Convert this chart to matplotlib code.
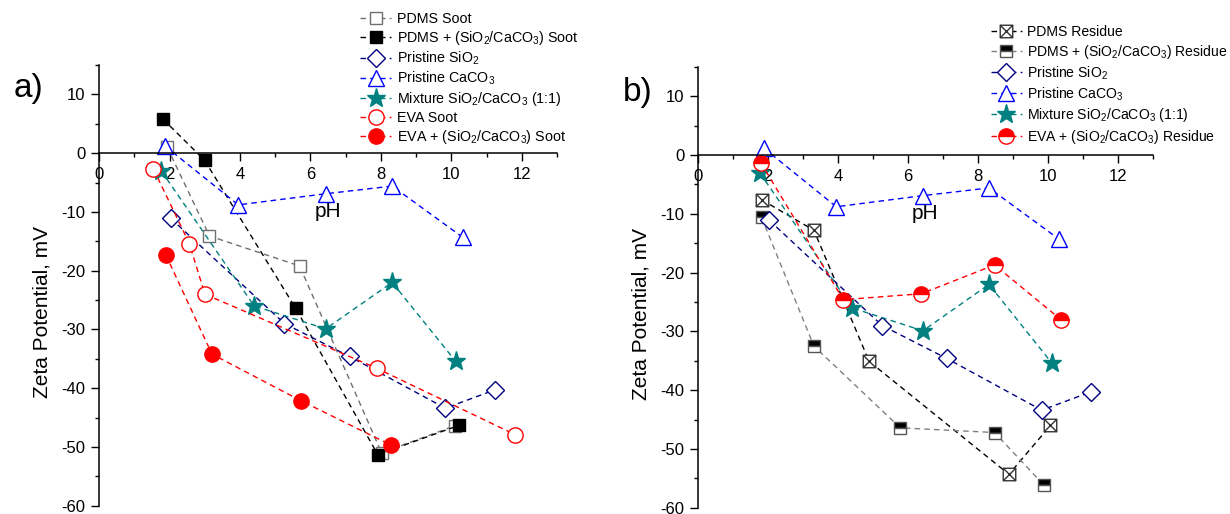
import numpy as np
import matplotlib
matplotlib.use('Agg')
import matplotlib.pyplot as plt
from matplotlib.path import Path

plt.rcParams['font.family'] = ['Liberation Sans', 'DejaVu Sans']
plt.rcParams['mathtext.default'] = 'regular'
plt.rcParams['axes.unicode_minus'] = False

# ---- data (pH, zeta potential mV) ----
sio2_ph = [2.03, 5.26, 7.11, 9.83, 11.23]
sio2_zp = [-11.1, -29.0, -34.6, -43.4, -40.3]

caco3_ph = [1.87, 3.95, 6.44, 8.32, 10.32]
caco3_zp = [1.2, -8.8, -6.9, -5.6, -14.3]

mix_ph = [1.76, 4.40, 6.43, 8.32, 10.12]
mix_zp = [-3.0, -26.0, -29.9, -22.0, -35.4]

# panel a
pdms_soot_ph = [1.93, 3.13, 5.69, 8.02, 10.10]
pdms_soot_zp = [1.0, -14.1, -19.2, -51.0, -46.4]

pdms_fr_soot_ph = [1.81, 2.99, 5.58, 7.91, 10.23]
pdms_fr_soot_zp = [5.8, -1.2, -26.4, -51.3, -46.3]

eva_soot_ph = [1.54, 2.56, 3.00, 7.88, 11.81]
eva_soot_zp = [-2.7, -15.4, -24.0, -36.6, -47.9]

eva_fr_soot_ph = [1.89, 3.20, 5.72, 8.29]
eva_fr_soot_zp = [-17.3, -34.2, -42.1, -49.7]

# panel b
pdms_res_ph = [1.81, 3.31, 4.89, 8.89, 10.08]
pdms_res_zp = [-7.6, -12.8, -35.1, -54.3, -46.0]

pdms_fr_res_ph = [1.81, 3.31, 5.78, 8.48, 9.90]
pdms_fr_res_zp = [-10.6, -32.5, -46.4, -47.2, -56.2]

eva_fr_res_ph = [1.79, 4.15, 6.38, 8.48, 10.38]
eva_fr_res_zp = [-1.3, -24.6, -23.6, -18.7, -28.0]

# square with an X inside
box_x = Path([(-1, -1), (1, -1), (1, 1), (-1, 1), (-1, -1),
              (-1, -1), (1, 1), (-1, 1), (1, -1)],
             [Path.MOVETO, Path.LINETO, Path.LINETO, Path.LINETO, Path.CLOSEPOLY,
              Path.MOVETO, Path.LINETO, Path.MOVETO, Path.LINETO])

dash = (0, (4, 3))
lw = 1.0

fig = plt.figure(figsize=(12.3, 5.14), dpi=100)
ax1 = fig.add_axes([0.0807, 0.0161, 0.3721, 0.8574])
ax2 = fig.add_axes([0.5677, 0.0121, 0.3693, 0.8579])


def common(ax, lbl, lx, ly):
    ax.set_xlim(0, 13)
    ax.set_ylim(-60, 15)
    ax.spines['bottom'].set_position(('data', 0))
    ax.spines['top'].set_visible(False)
    ax.spines['right'].set_visible(False)
    for s in ('bottom', 'left'):
        ax.spines[s].set_linewidth(1.1)
    ax.set_xticks(np.arange(0, 13, 2))
    ax.set_xticks(np.arange(0, 14, 1), minor=True)
    ax.set_yticks(np.arange(-60, 11, 10))
    ax.set_yticks(np.arange(-60, 16, 5), minor=True)
    ax.tick_params(which='major', direction='out', length=6, width=1.0, labelsize=12, pad=4)
    ax.tick_params(which='minor', direction='out', length=3, width=1.0)
    ax.text(6.5, -10, 'pH', fontsize=15, ha='center', va='center')
    ax.set_ylabel('Zeta Potential, mV', fontsize=15)
    ax.yaxis.set_label_coords(-0.105, 0.44)
    fig.text(lx, ly, lbl, fontsize=24, ha='left', va='center')


# ---- panel a ----
ax1.plot(pdms_soot_ph, pdms_soot_zp, ls=dash, lw=lw, color='#707070', marker='s', ms=9,
         mfc='white', mec='#707070', label='PDMS Soot')
ax1.plot(pdms_fr_soot_ph, pdms_fr_soot_zp, ls=dash, lw=lw, color='black', marker='s', ms=9,
         mfc='black', mec='black', label='PDMS + (SiO$_2$/CaCO$_3$) Soot')
ax1.plot(sio2_ph, sio2_zp, ls=dash, lw=lw, color='#000080', marker='D', ms=9,
         mfc='white', mec='#000080', label='Pristine SiO$_2$')
ax1.plot(caco3_ph, caco3_zp, ls=dash, lw=lw, color='#0000FF', marker='^', ms=11,
         mfc='white', mec='#0000FF', label='Pristine CaCO$_3$')
ax1.plot(mix_ph, mix_zp, ls=dash, lw=lw, color='#008080', marker='*', ms=14,
         mfc='#008080', mec='#008080', label='Mixture SiO$_2$/CaCO$_3$ (1:1)')
ax1.plot(eva_soot_ph, eva_soot_zp, ls=dash, lw=lw, color='#FF0000', marker='o', ms=11,
         mfc='white', mec='#FF0000', label='EVA Soot')
ax1.plot(eva_fr_soot_ph, eva_fr_soot_zp, ls=dash, lw=lw, color='#FF0000', marker='o', ms=11,
         mfc='#FF0000', mec='#FF0000', label='EVA + (SiO$_2$/CaCO$_3$) Soot')
common(ax1, 'a)', 0.011, 1 - 89 / 514)
ax1.legend(loc='upper left', bbox_to_anchor=(0.2927, 0.977), bbox_transform=fig.transFigure,
           frameon=False, fontsize=10.3, handlelength=2.2, handletextpad=0.4,
           labelspacing=0.2, borderpad=0, borderaxespad=0)

# ---- panel b ----
ax2.plot(pdms_res_ph, pdms_res_zp, ls=dash, lw=lw, color='black', marker=box_x, ms=9,
         mfc='white', mec='#333333', mew=1.0, label='PDMS Residue')
ax2.plot(pdms_fr_res_ph, pdms_fr_res_zp, ls=dash, lw=lw, color='#808080', marker='s', ms=9,
         fillstyle='top', mfc='black', markerfacecoloralt='white', mec='#555555',
         label='PDMS + (SiO$_2$/CaCO$_3$) Residue')
ax2.plot(sio2_ph, sio2_zp, ls=dash, lw=lw, color='#000080', marker='D', ms=9,
         mfc='white', mec='#000080', label='Pristine SiO$_2$')
ax2.plot(caco3_ph, caco3_zp, ls=dash, lw=lw, color='#0000FF', marker='^', ms=11,
         mfc='white', mec='#0000FF', label='Pristine CaCO$_3$')
ax2.plot(mix_ph, mix_zp, ls=dash, lw=lw, color='#008080', marker='*', ms=14,
         mfc='#008080', mec='#008080', label='Mixture SiO$_2$/CaCO$_3$ (1:1)')
ax2.plot(eva_fr_res_ph, eva_fr_res_zp, ls=dash, lw=lw, color='#FF0000', marker='o', ms=11,
         fillstyle='top', mfc='#FF0000', markerfacecoloralt='white', mec='#FF0000',
         label='EVA + (SiO$_2$/CaCO$_3$) Residue')
common(ax2, 'b)', 0.506, 1 - 93 / 514)
ax2.legend(loc='upper left', bbox_to_anchor=(0.8055, 0.951), bbox_transform=fig.transFigure,
           frameon=False, fontsize=10.1, handlelength=2.2, handletextpad=0.4,
           labelspacing=0.25, borderpad=0, borderaxespad=0)

fig.savefig('out.png', dpi=100)
